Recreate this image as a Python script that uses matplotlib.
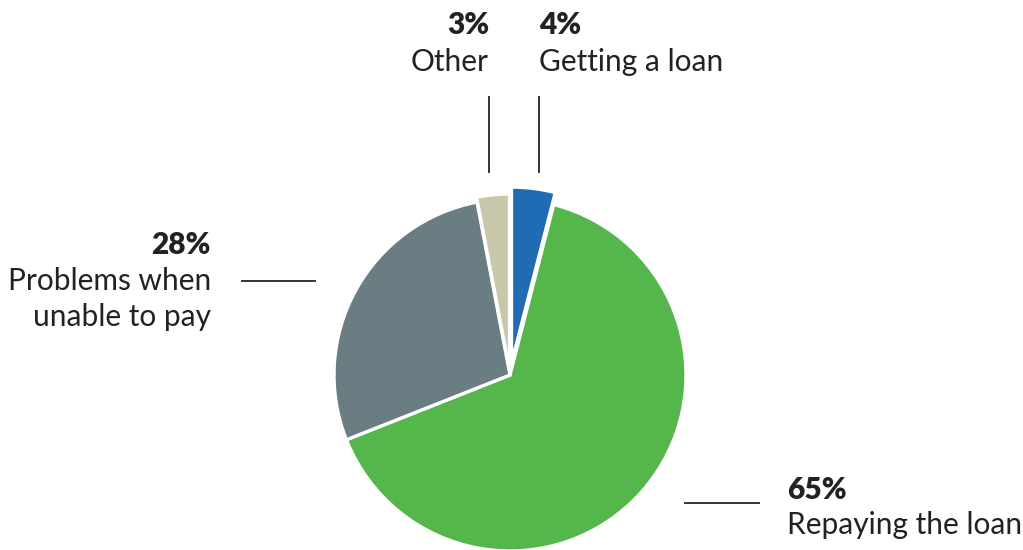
import matplotlib
matplotlib.use('Agg')
import matplotlib.pyplot as plt

# data
labels = ['Getting a loan', 'Repaying the loan', 'Problems when\nunable to pay', 'Other']
shares = [4, 65, 28, 3]
colors = ['#1f6bb4', '#55b74b', '#6a7d83', '#c8c7aa']
explode = [12, 0, 0, 5]  # pie explode is in data units here (axes in pixels)

plt.rcParams['font.family'] = ['Lato', 'DejaVu Sans']

fig = plt.figure(figsize=(10.23, 5.5), dpi=100)
ax = fig.add_axes([0, 0, 1, 1])

ax.pie(shares, colors=colors, explode=explode, startangle=90, counterclock=False,
       center=(510, 175), radius=176, frame=True,
       wedgeprops=dict(edgecolor='white', linewidth=2.4))
ax.set_xlim(0, 1023)
ax.set_ylim(0, 550)
ax.set_aspect('equal')
ax.axis('off')

line_kw = dict(color='#333333', lw=1.4)
txt = '#222222'
fs = 21.5

# Getting a loan
ax.plot([539, 539], [453, 378], **line_kw)
ax.text(539, 525, f'{shares[0]}%', fontsize=fs, fontweight='heavy', color=txt, ha='left', va='center')
ax.text(539, 488, labels[0], fontsize=fs, color=txt, ha='left', va='center')

# Other
ax.plot([489, 489], [453, 378], **line_kw)
ax.text(489, 525, f'{shares[3]}%', fontsize=fs, fontweight='heavy', color=txt, ha='right', va='center')
ax.text(489, 488, labels[3], fontsize=fs, color=txt, ha='right', va='center')

# Problems when unable to pay
ax.plot([242, 315], [269, 269], **line_kw)
ax.text(211, 305, f'{shares[2]}%', fontsize=fs, fontweight='heavy', color=txt, ha='right', va='center')
ax.text(211, 251, labels[2], fontsize=fs, color=txt, ha='right', va='center',
        multialignment='right', linespacing=1.35)

# Repaying the loan
ax.plot([685, 759], [47, 47], **line_kw)
ax.text(787, 60, f'{shares[1]}%', fontsize=fs, fontweight='heavy', color=txt, ha='left', va='center')
ax.text(787, 25, labels[1], fontsize=fs, color=txt, ha='left', va='center')

fig.savefig('out.png', dpi=100)
